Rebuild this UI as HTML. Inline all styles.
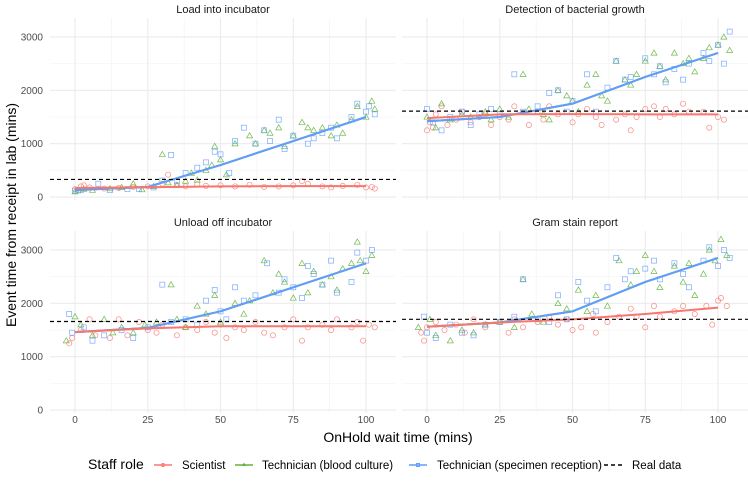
<!DOCTYPE html>
<html><head><meta charset="utf-8">
<style>
body{margin:0;background:#fff;font-family:"Liberation Sans",Arial,sans-serif;}
svg text{font-family:"Liberation Sans",Arial,sans-serif;}
</style></head>
<body>
<svg id="chart" width="748" height="487" viewBox="0 0 748 487" xmlns="http://www.w3.org/2000/svg">
<g id="panels"></g>
<text x="398" y="442" text-anchor="middle" font-size="14" fill="#000">OnHold wait time (mins)</text>
<text transform="translate(16,215) rotate(-90)" text-anchor="middle" font-size="14" fill="#000">Event time from receipt in lab (mins)</text>
<g font-size="11.5">
  <text x="88" y="469" font-size="14">Staff role</text>
  <g>
    <line x1="154" y1="465" x2="172" y2="465" stroke="#F8766D" stroke-width="1.5"/><circle cx="163" cy="465" r="1.5" fill="none" stroke="#F8766D"/>
    <text x="182" y="469">Scientist</text></g>
  <g>
    <line x1="235" y1="465" x2="253" y2="465" stroke="#7CAE00" stroke-width="1.5" style="stroke:#62b33a"/><path d="M244,462.5 l2,3.5 h-4z" fill="#62b33a"/>
    <text x="262" y="469">Technician (blood culture)</text></g>
  <g>
    <line x1="409" y1="465" x2="427" y2="465" stroke="#619CFF" stroke-width="1.5"/><rect x="416.5" y="463.5" width="3" height="3" fill="none" stroke="#619CFF"/>
    <text x="437" y="469">Technician (specimen reception)</text></g>
  <g>
    <line x1="604" y1="465" x2="622" y2="465" stroke="#000" stroke-width="1.5" stroke-dasharray="4,3"/>
    <text x="632" y="469">Real data</text></g>
</g>
</svg>
<script>
const facetTitles=["Load into incubator","Detection of bacterial growth","Unload off incubator","Gram stain report"];
const yTicks=[0,1000,2000,3000];
const xTicks=[0,25,50,75,100];
const realData=[330,1610,1660,1700];
const lineX=[0,25,50,75,100];
const sciLine=[[170,185,200,205,205],[1480,1550,1555,1550,1550],[1460,1530,1570,1570,1570],[1560,1640,1700,1800,1920]];
const bcLine=[[130,190,600,1050,1500],[1420,1500,1750,2250,2700],[1460,1540,1850,2300,2750],[1560,1640,1850,2400,2850]];
const srLine=bcLine;
const sciPts=[
[0,150,2,200,3,220,5,180,10,160,15,170,20,190,25,200,30,250,32,420,35,230,38,200,42,240,45,210,50,220,55,200,60,230,65,190,70,200,75,220,78,300,80,250,85,200,88,180,92,210,97,230,100,180,102,190,103,160],
[0,1250,1,1400,2,1300,3,1550,5,1700,7,1350,10,1450,12,1600,15,1400,18,1500,20,1550,22,1350,25,1500,28,1450,30,1700,35,1350,38,1600,40,1450,42,1700,45,1550,50,1400,52,1550,55,1650,58,1500,60,1350,65,1450,68,1550,70,1250,72,1500,75,1650,78,1700,80,1500,82,1650,85,1550,88,1750,90,1600,95,1600,97,1300,100,1500,102,1450],
[-2,1250,-1,1350,2,1500,5,1700,7,1400,12,1350,15,1700,18,1400,22,1650,25,1500,28,1450,30,1600,35,1400,38,1550,42,1500,45,1650,48,1450,50,1600,52,1350,55,1550,58,1500,62,1650,65,1450,68,1400,72,1550,75,1700,78,1300,80,1550,85,1600,88,1500,90,1700,95,1550,97,1650,99,1300,101,1600,103,1550],
[-2,1450,-1,1300,0,1550,3,1650,6,1500,10,1600,13,1450,16,1700,20,1550,25,1650,28,1450,30,1700,33,1550,38,1650,42,1750,45,1600,48,1700,50,1500,53,1550,57,1800,58,1450,62,1650,66,1750,70,1900,72,1750,75,1550,78,1950,80,1750,85,1850,88,1950,92,1800,96,1950,98,1600,100,2050,101,2100,103,1950]];
const bcPts=[
[0,100,1,120,3,150,6,130,12,160,16,180,20,250,23,140,27,200,30,800,32,270,35,220,38,300,40,450,42,320,45,500,47,600,48,950,50,700,52,420,55,1000,60,1150,62,1000,65,1250,67,1200,70,1300,72,950,75,1150,78,1400,80,1300,82,1250,85,1300,88,1150,90,1350,92,1200,95,1450,97,1700,100,1500,102,1800,103,1650],
[0,1500,3,1300,5,1750,8,1450,12,1550,15,1500,20,1600,22,1450,25,1650,28,1500,33,2300,35,1650,40,1550,42,1450,45,2000,48,1900,50,1800,52,1600,55,2100,58,2300,60,1900,62,1800,65,2550,68,2200,70,2100,72,2300,75,2550,78,2700,80,2450,82,2200,85,2700,88,2500,90,2600,92,2350,95,2600,97,2800,100,2850,102,3000,104,2750],
[0,1750,-3,1300,2,1600,6,1400,10,1700,13,1450,16,1550,20,1450,24,1600,28,1650,33,2350,35,1700,38,1550,42,1950,45,1800,48,2150,50,1650,55,2000,58,1800,60,2050,65,2800,68,2200,70,2550,72,2400,75,2100,78,2750,80,2200,82,2600,85,2350,88,2500,90,2250,92,2650,95,2750,97,3150,98,2800,100,2600,102,2900],
[1,1700,-3,1550,3,1400,8,1300,12,1500,16,1450,20,1600,25,1650,30,1550,33,2450,36,1800,40,1650,45,2000,48,1900,52,2250,55,1850,58,2150,62,1950,66,2800,70,2350,72,2600,75,2900,78,2600,80,2300,85,2700,88,2400,90,2750,92,2150,95,2550,97,3000,99,2800,101,3200,103,2900]];
const srPts=[
[0,120,2,130,8,250,12,130,18,150,22,150,27,180,30,310,33,790,35,300,38,450,42,550,45,650,48,850,50,800,53,450,55,1050,58,1300,62,1000,65,1250,67,1050,70,1450,72,900,75,1150,80,1000,82,1100,85,1200,88,1300,90,1100,95,1500,97,1750,100,1600,101,1700,103,1550],
[0,1650,2,1400,5,1250,8,1500,12,1600,15,1350,18,1550,22,1650,25,1550,30,2300,33,1600,38,1700,42,1950,45,2000,48,1600,50,1800,55,2300,58,1600,62,2050,65,2550,68,2200,70,2250,75,2600,78,2300,80,2450,82,2150,85,2400,88,2200,90,2500,95,2700,97,2550,100,2850,102,2500,104,3100],
[-2,1800,-1,1450,3,1550,6,1300,10,1400,16,1500,20,1350,25,1550,30,2350,33,1650,38,1700,42,1600,45,2050,48,2250,50,1850,52,1700,55,2300,58,2050,62,2150,66,2750,70,2200,72,2450,75,2300,78,2100,80,2700,82,2550,85,2350,88,2800,90,2200,95,2400,97,2950,100,2800,102,3000],
[-1,1750,0,1450,3,1350,8,1600,12,1450,16,1400,20,1600,25,1650,30,1750,33,2450,38,1700,42,1650,45,2150,48,1700,52,2400,55,2050,58,1850,62,2300,65,2850,68,2450,70,2600,75,2650,78,2800,80,2450,85,2750,88,2550,90,2300,95,2800,97,3050,100,2700,102,3000,104,2850]];

const NS="http://www.w3.org/2000/svg";
const panelW=346, panelH=182;
const origins=[[50,18],[402,18],[50,231],[402,231]];
const xMin=-8.6, xMax=110.3, yMin=-55, yMax=3355;
const COL={sci:"#F8766D",bc:"#62b33a",sr:"#619CFF"};
const root=document.getElementById('panels');
function mk(tag,attrs,parent){const e=document.createElementNS(NS,tag);for(const k in attrs)e.setAttribute(k,attrs[k]);parent.appendChild(e);return e;}
for(let p=0;p<4;p++){
  const [ox,oy]=origins[p];
  const sx=v=>ox+(v-xMin)/(xMax-xMin)*panelW;
  const sy=v=>oy+panelH-(v-yMin)/(yMax-yMin)*panelH;
  const g=mk('g',{},root);
  
  
  // minor grid
  for(let i=0;i<4;i++){const v=xTicks[i]+12.5;const l=mk('line',{x1:sx(v),x2:sx(v),y1:oy,y2:oy+panelH,stroke:'#f2f2f2','stroke-width':0.6},g);}
  for(let i=0;i<3;i++){const v=yTicks[i]+500;const l=mk('line',{x1:ox,x2:ox+panelW,y1:sy(v),y2:sy(v),stroke:'#f2f2f2','stroke-width':0.6},g);}
  xTicks.forEach(v=>{const l=mk('line',{x1:sx(v),x2:sx(v),y1:oy,y2:oy+panelH,stroke:'#ebebeb','stroke-width':1.1},g);});
  yTicks.forEach(v=>{const l=mk('line',{x1:ox,x2:ox+panelW,y1:sy(v),y2:sy(v),stroke:'#ebebeb','stroke-width':1.1},g);});
  const t=mk('text',{x:ox+panelW/2,y:oy-5,'text-anchor':'middle','font-size':11,fill:'#1a1a1a'},g);
  
  
  t.textContent=facetTitles[p];
  if(p%2===0){yTicks.forEach(v=>{const tt=mk('text',{x:ox-7,y:sy(v)+3.5,'text-anchor':'end','font-size':10,fill:'#4d4d4d'},g);tt.textContent=v;});}
  if(p>=2){xTicks.forEach(v=>{const tt=mk('text',{x:sx(v),y:oy+panelH+10,'text-anchor':'middle','font-size':10,fill:'#4d4d4d'},g);tt.textContent=v;});}
  // points
  const a=sciPts[p];for(let i=0;i<a.length;i+=2){const c=mk('circle',{cx:sx(a[i]),cy:sy(a[i+1]),r:2.6,fill:'none',stroke:COL.sci,'stroke-width':0.7,opacity:0.85},g);}
  const b=bcPts[p];for(let i=0;i<b.length;i+=2){const x=sx(b[i]),y=sy(b[i+1]);const c=mk('path',{d:`M${x},${y-3} L${x+3},${y+2.2} L${x-3},${y+2.2}Z`,fill:'none',stroke:COL.bc,'stroke-width':0.7,opacity:0.9},g);}
  const s=srPts[p];for(let i=0;i<s.length;i+=2){const c=mk('rect',{x:sx(s[i])-2.5,y:sy(s[i+1])-2.5,width:5,height:5,fill:'none',stroke:COL.sr,'stroke-width':0.7,opacity:0.85},g);}
  // lines
  const pl=(arr,col,name)=>{const pts=lineX.map((x,i)=>sx(x)+','+sy(arr[i])).join(' ');const l=mk('polyline',{points:pts,fill:'none',stroke:col,'stroke-width':2,'stroke-linejoin':'round'},g);};
  pl(bcLine[p],COL.bc,'blood-culture-trend');
  pl(srLine[p],COL.sr,'specimen-reception-trend');
  pl(sciLine[p],COL.sci,'scientist-trend');
  const d=mk('line',{x1:ox,x2:ox+panelW,y1:sy(realData[p]),y2:sy(realData[p]),stroke:'#000','stroke-width':1.2,'stroke-dasharray':'4,3'},g);
  
  
}
</script>
</body></html>
